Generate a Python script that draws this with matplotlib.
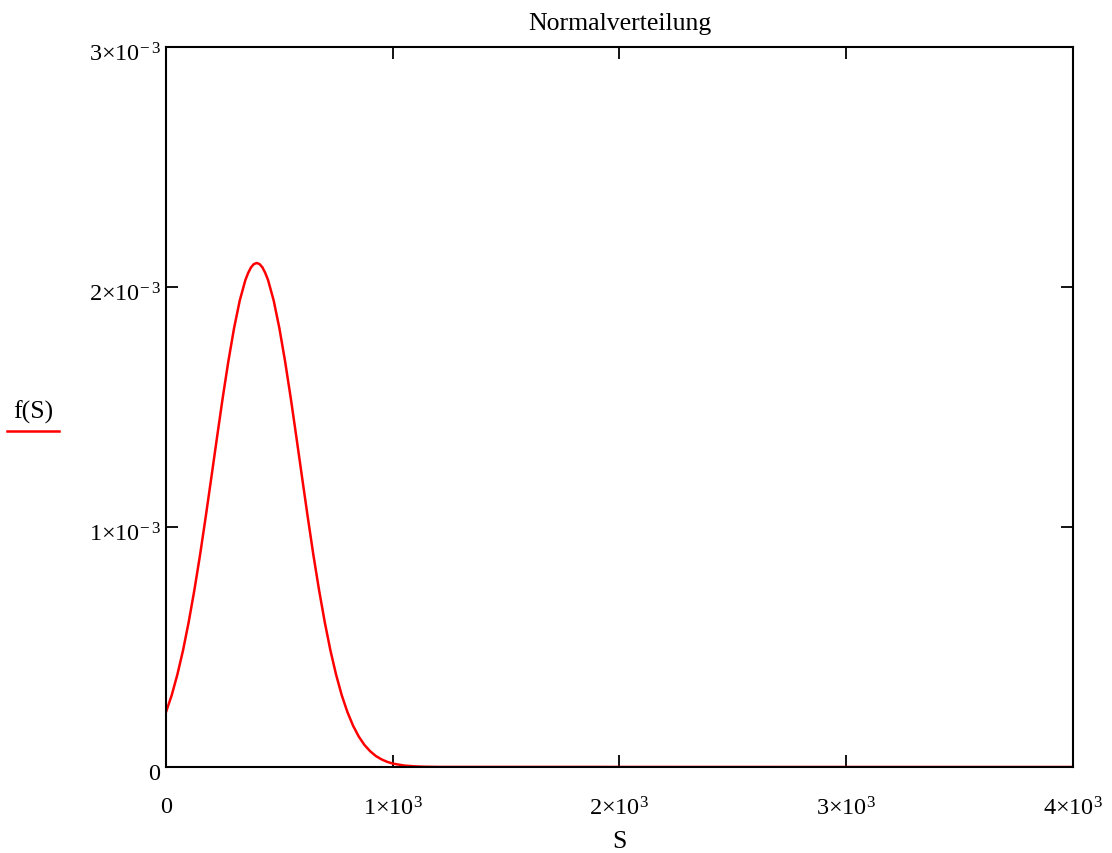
import matplotlib
matplotlib.use('Agg')
import matplotlib.pyplot as plt
from matplotlib.lines import Line2D
from matplotlib.transforms import ScaledTranslation
import numpy as np

plt.rcParams['font.family'] = ['Liberation Serif', 'DejaVu Serif']
plt.rcParams['mathtext.fontset'] = 'custom'
plt.rcParams['mathtext.rm'] = 'Liberation Serif'
plt.rcParams['mathtext.it'] = 'Liberation Serif'

# Curve (S, f(S) in units of 1e-3)
s_vals = [0, 25, 50, 75, 100, 125, 150, 175, 200, 225, 250, 275, 300, 325, 350, 362.5,
          375, 387.5, 400, 412.5, 425, 437.5, 450, 475, 500, 525, 550, 575, 600, 625,
          650, 675, 700, 725, 750, 775, 800, 825, 850, 875, 900, 925, 950, 975, 1000,
          1050, 1100, 1150, 1200, 4000]
f_vals = [0.229, 0.299, 0.385, 0.486, 0.604, 0.737, 0.883, 1.042, 1.207, 1.374, 1.538,
          1.691, 1.828, 1.943, 2.029, 2.059, 2.082, 2.0955, 2.100, 2.0955, 2.082, 2.059,
          2.029, 1.943, 1.828, 1.691, 1.538, 1.374, 1.207, 1.042, 0.883, 0.737, 0.604,
          0.486, 0.385, 0.299, 0.229, 0.172, 0.127, 0.092, 0.066, 0.046, 0.032, 0.0216,
          0.0143, 0.006, 0.0024, 0.0009, 0.0003, 0.0]

x_ticks = [0, 1000, 2000, 3000, 4000]
x_labels = ['0', r'$1{\times}10^3$', r'$2{\times}10^3$', r'$3{\times}10^3$', r'$4{\times}10^3$']
y_ticks = [0, 1e-3, 2e-3, 3e-3]
y_labels = ['0', r'$1{\times}10^{-\,3}$', r'$2{\times}10^{-\,3}$', r'$3{\times}10^{-\,3}$']

fig = plt.figure(figsize=(11.12, 8.54), dpi=100)
ax = fig.add_axes([0.1493, 0.1007, 0.8156, 0.8431])

ax.plot(s_vals, np.array(f_vals) * 1e-3, color='#ff0000', lw=1.8)

ax.set_xlim(0, 4000)
ax.set_ylim(0, 3e-3)
ax.set_xticks(x_ticks)
ax.set_xticklabels(x_labels)
ax.set_yticks(y_ticks)
ax.set_yticklabels(y_labels)
ax.tick_params(direction='in', length=8.6, width=1.3, top=True, right=True,
               labelsize=17.5, colors='black')
ax.tick_params(axis='x', pad=21)
ax.tick_params(axis='y', pad=4)
# Mathcad puts the y labels a little below their ticks
shift = ScaledTranslation(0, -4 / 100, fig.dpi_scale_trans)
for lab in ax.get_yticklabels():
    lab.set_transform(lab.get_transform() + shift)
for sp in ax.spines.values():
    sp.set_linewidth(1.5)

ax.set_title('Normalverteilung', fontsize=18.5, pad=13)
ax.set_xlabel('S', fontsize=18.5, labelpad=8)

# y label with red trace marker below it
fig.text(0.0297, 0.517, 'f(S)', fontsize=18.5, ha='center', va='center')
fig.add_artist(Line2D([0.0063, 0.053], [0.494, 0.494], color='#ff0000', lw=1.8))

fig.savefig('out.png', dpi=100)
